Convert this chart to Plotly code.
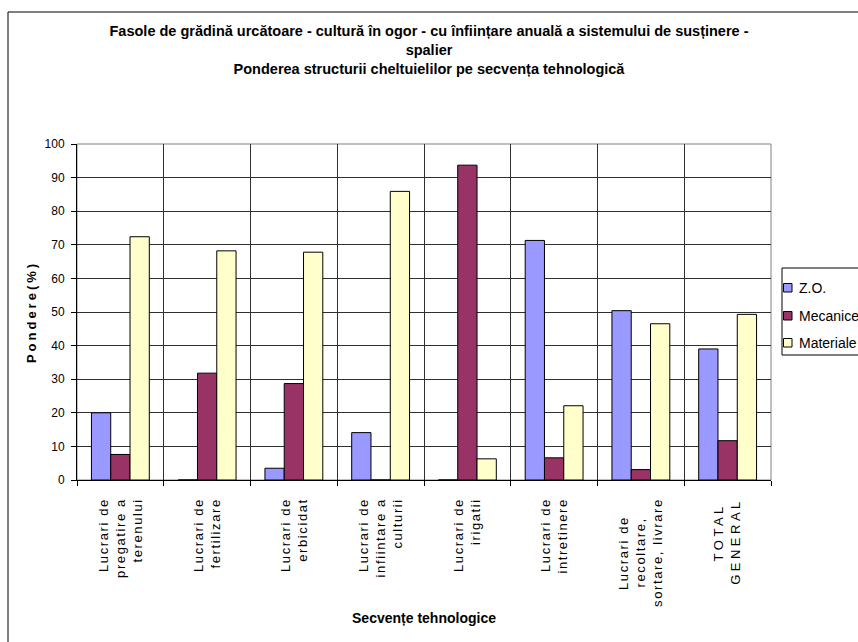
import plotly.graph_objects as go

categories = [
    "Lucrari de pregatire a terenului",
    "Lucrari de fertilizare",
    "Lucrari de erbicidat",
    "Lucrari de infiintare a culturii",
    "Lucrari de irigatii",
    "Lucrari de intretinere",
    "Lucrari de recoltare, sortare, livrare",
    "TOTAL GENERAL",
]
tick_lines = [
    ["Lucrari de", "pregatire a", "terenului"],
    ["Lucrari de", "fertilizare"],
    ["Lucrari de", "erbicidat"],
    ["Lucrari de", "infiintare a", "culturii"],
    ["Lucrari de", "irigatii"],
    ["Lucrari de", "intretinere"],
    ["Lucrari de", "recoltare,", "sortare, livrare"],
    ["TOTAL", "GENERAL"],
]
zo = [20.0, 0, 3.5, 14.1, 0, 71.3, 50.4, 39.0]
mecanice = [7.6, 31.8, 28.7, 0, 93.7, 6.6, 3.1, 11.7]
materiale = [72.4, 68.2, 67.8, 85.9, 6.3, 22.1, 46.5, 49.3]

series_names = ["Z.O.", "Mecanice", "Materiale"]
series_values = [zo, mecanice, materiale]
series_colors = ["#9999FF", "#993366", "#FFFFCC"]

FONT = "Liberation Sans, Arial, sans-serif"

def spaced(s, px, tail=0):
    # letter-spaced line; optional extra trailing advance to centre a short line
    if tail:
        return (f"<span style='letter-spacing:{px}px'>{s[:-1]}</span>"
                f"<span style='letter-spacing:{px + tail}px'>{s[-1]}</span>")
    return f"<span style='letter-spacing:{px}px'>{s}</span>"

ticktext = []
for lines in tick_lines:
    sp = 3.5 if lines[0] == "TOTAL" else 1.6
    if lines[-1] == "sortare, livrare":
        parts = [spaced(lines[0], sp, 18), spaced(lines[1], sp, 19), spaced(lines[2], sp)]
    elif lines[0] == "TOTAL":
        parts = [spaced(lines[0], sp, 5), spaced(lines[1], sp)]
    else:
        parts = [spaced(l, sp) for l in lines]
    ticktext.append("<br>".join(parts))

fig = go.Figure()
for name, vals, col in zip(series_names, series_values, series_colors):
    fig.add_trace(go.Bar(
        x=categories, y=vals, name=name, showlegend=False,
        marker=dict(color=col, line=dict(color="black", width=1)),
    ))

W, H = 858, 642
L, R, T, B = 77, 771, 144, 480
pw, ph = R - L, B - T

def px2x(px):
    return (px - L) / pw

def py2y(py):
    return (B - py) / ph

shapes = [
    dict(type="rect", xref="paper", yref="paper", x0=0, x1=1, y0=0, y1=1,
         line=dict(color="#808080", width=1), layer="below"),
    dict(type="line", xref="paper", yref="paper",
         x0=px2x(8), x1=px2x(W + 20), y0=py2y(12), y1=py2y(12),
         line=dict(color="black", width=1)),
    dict(type="line", xref="paper", yref="paper",
         x0=px2x(8), x1=px2x(8), y0=py2y(12), y1=py2y(H + 20),
         line=dict(color="black", width=1)),
    dict(type="rect", xref="paper", yref="paper",
         x0=px2x(782), x1=px2x(W + 30), y0=py2y(268), y1=py2y(355),
         line=dict(color="black", width=1), fillcolor="white"),
]
annotations = []
item_y = [288, 316, 343]
for name, col, yy in zip(series_names, series_colors, item_y):
    shapes.append(dict(type="rect", xref="paper", yref="paper",
                       x0=px2x(783.5), x1=px2x(792), y0=py2y(yy - 4.5), y1=py2y(yy + 4),
                       line=dict(color="black", width=1), fillcolor=col))
    annotations.append(dict(xref="paper", yref="paper", x=px2x(797), y=py2y(yy),
                            xanchor="left", yanchor="middle", showarrow=False,
                            text=name, font=dict(family=FONT, size=14, color="black")))

fig.update_layout(
    width=W, height=H,
    margin=dict(l=L, r=W - R, t=T, b=H - B, pad=0),
    paper_bgcolor="white", plot_bgcolor="white",
    font=dict(family=FONT, size=12, color="black"),
    barmode="group", bargap=0.333, bargroupgap=0,
    title=dict(
        text="Fasole de grădină urcătoare - cultură în ogor - cu înființare anuală a sistemului de susținere -<br>spalier<br>Ponderea structurii cheltuielilor pe secvența tehnologică",
        font=dict(family=FONT, size=14.5, color="black", weight="bold"),
        x=0.5, xanchor="center", xref="container",
        y=1 - 36 / H, yanchor="top", yref="container",
    ),
    showlegend=False,
    xaxis=dict(
        type="category", tickvals=categories, ticktext=ticktext,
        tickangle=-90, tickson="boundaries",
        ticks="outside", ticklen=5, tickcolor="black",
        showgrid=True, gridcolor="#303030", gridwidth=1,
        showline=True, linecolor="black", linewidth=1,
        tickfont=dict(family=FONT, size=13, color="black"),
        ticklabelstandoff=12,
        title=dict(text="Secvențe tehnologice", font=dict(family=FONT, size=14, color="black", weight="bold"), standoff=7),
        automargin=False,
    ),
    yaxis=dict(
        range=[0, 100], dtick=10, tick0=0,
        ticks="outside", ticklen=5, tickcolor="black",
        showgrid=True, gridcolor="#303030", gridwidth=1,
        showline=True, linecolor="black", linewidth=1,
        zeroline=False,
        tickfont=dict(family=FONT, size=12, color="black"),
        ticklabelstandoff=4,
        title=dict(text=spaced("Pondere(%)", 3), font=dict(family=FONT, size=13, color="black", weight="bold"), standoff=5),
        automargin=False,
    ),
    shapes=shapes,
    annotations=annotations,
)

fig.write_html("out.html")
